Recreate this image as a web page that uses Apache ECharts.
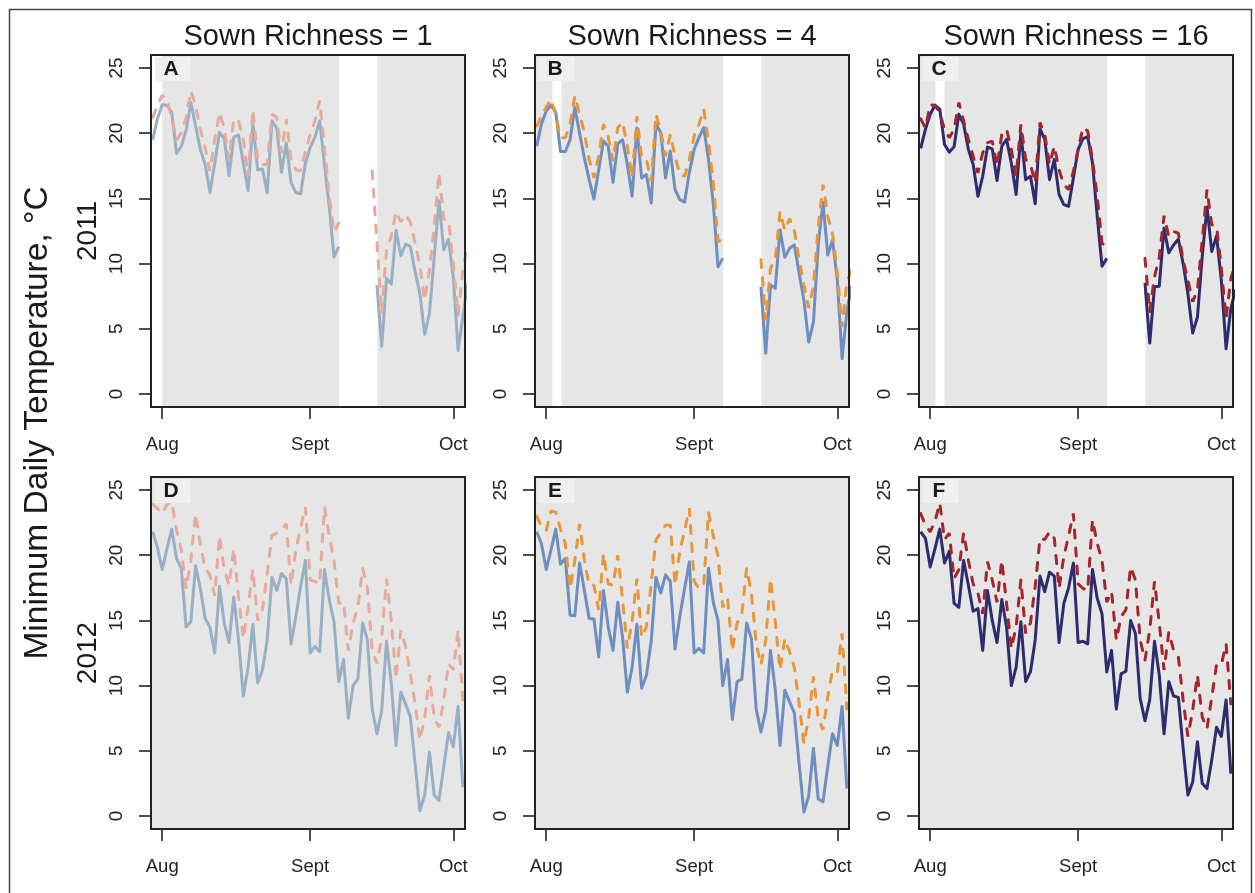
<!DOCTYPE html>
<html>
<head>
<meta charset="utf-8">
<script src="https://cdn.jsdelivr.net/npm/echarts@6/dist/echarts.min.js"></script>
<style>
  html, body { margin: 0; padding: 0; background: #fff; }
  #chart { width: 1255px; height: 893px; }
</style>
</head>
<body>
<div id="chart"></div>
<script>
// day index: 0 = 1 Aug, 31 = 1 Sept, 61 = 1 Oct
var days2011 = [-2, -1, 0, 1, 2, 3, 4, 5, 6, 7, 8, 9, 10, 11, 12, 13, 14, 15, 16, 17, 18, 19, 20, 21, 22, 23, 24, 25, 26, 27, 28, 29, 30, 31, 32, 33, 34, 35, 36, 37, 38, 39, 40, 41, 42, 43, 44, 45, 46, 47, 48, 49, 50, 51, 52, 53, 54, 55, 56, 57, 58, 59, 60, 61, 62, 63, 64];
var days2012 = [-2, -1, 0, 1, 2, 3, 4, 5, 6, 7, 8, 9, 10, 11, 12, 13, 14, 15, 16, 17, 18, 19, 20, 21, 22, 23, 24, 25, 26, 27, 28, 29, 30, 31, 32, 33, 34, 35, 36, 37, 38, 39, 40, 41, 42, 43, 44, 45, 46, 47, 48, 49, 50, 51, 52, 53, 54, 55, 56, 57, 58, 59, 60, 61, 62, 63];

// 2011 (gap in the record 38-44)
var aSolid = [19.5, 21.1, 22.2, 22.15, 21.6, 18.45, 19.0, 20.2, 22.35, 20.55, 18.75, 17.6, 15.45, 17.7, 20.05, 19.6, 16.75, 19.7, 19.85, 17.7, 15.6, 20.8, 17.2, 17.25, 15.45, 20.95, 20.4, 17.0, 19.25, 16.2, 15.45, 15.35, 17.7, 18.9, 19.7, 20.95, 17.6, 14.4, 10.5, 11.3,
  null, null, null, null, null, null, null,
  8.35, 3.65, 8.87, 8.43, 12.54, 10.6, 11.5, 11.3, 9.38, 7.7, 4.57, 6.17, 10.5, 14.83, 11.05, 11.87, 9.0, 3.34, 5.9, 8.5];
var aDashed = [21.2, 22.1, 22.9, 22.6, 21.2, 19.5, 20.0, 21.2, 23.25, 22.1, 20.3, 18.9, 17.1, 19.5, 21.6, 20.4, 18.0, 21.1, 20.95, 19.5, 16.7, 21.8, 18.0, 17.6, 17.6, 21.45, 21.2, 18.5, 21.1, 18.0, 17.2, 17.1, 18.6, 19.9, 20.95, 22.5, 18.9, 15.2, 12.4, 13.1,
  null, null, null, null, null, null, 17.1,
  11.6, 6.17, 11.05, 12.1, 14.0, 13.2, 13.75, 13.2, 11.56, 9.77, 7.2, 9.5, 12.85, 16.96, 13.4, 13.3, 10.0, 6.04, 9.5, 11.5];
var bSolid = [19.0, 20.7, 21.7, 22.15, 21.6, 18.6, 18.6, 19.5, 21.97, 20.0, 18.1, 16.44, 14.95, 17.2, 19.4, 19.0, 16.24, 19.2, 19.5, 17.6, 15.16, 20.4, 16.57, 16.83, 14.65, 20.7, 20.04, 16.57, 18.63, 15.67, 14.9, 14.72, 17.0, 18.76, 19.66, 20.43, 18.0, 14.65, 9.76, 10.4,
  null, null, null, null, null, null, null,
  8.22, 3.13, 8.35, 8.1, 12.6, 10.48, 11.17, 11.43, 9.25, 7.2, 3.98, 5.52, 11.43, 14.7, 10.66, 11.8, 8.74, 2.7, 6.3, 8.3];
var bDashed = [20.55, 21.3, 22.0, 22.6, 21.45, 19.66, 19.66, 20.7, 22.87, 21.45, 20.04, 17.99, 16.57, 18.24, 20.7, 19.73, 17.86, 20.43, 20.86, 19.0, 16.57, 21.3, 18.1, 17.99, 16.3, 21.45, 20.17, 18.24, 19.9, 18.24, 16.83, 16.7, 17.99, 19.78, 20.68, 21.84, 19.4, 16.3, 11.7, 11.8,
  null, null, null, null, null, null, null,
  10.3, 5.65, 9.65, 10.3, 13.98, 12.55, 13.45, 12.55, 10.3, 8.4, 6.6, 8.26, 12.8, 16.05, 13.6, 12.3, 9.25, 5.14, 8.6, 9.5];
var cSolid = [18.83, 20.3, 21.45, 22.15, 21.84, 19.14, 18.55, 18.96, 21.45, 20.7, 18.76, 17.6, 15.16, 16.7, 18.94, 18.8, 16.37, 19.0, 19.53, 17.7, 15.3, 20.04, 16.44, 16.7, 14.6, 20.35, 19.53, 16.44, 17.99, 15.3, 14.52, 14.39, 16.57, 18.76, 19.58, 19.73, 17.73, 13.62, 9.8, 10.4,
  null, null, null, null, null, null, null,
  8.53, 3.9, 8.22, 8.27, 12.72, 10.83, 11.43, 11.87, 10.0, 7.7, 4.68, 5.9, 10.53, 14.34, 10.92, 12.13, 8.74, 3.47, 6.55, 8.0];
var cDashed = [21.1, 20.4, 22.2, 22.1, 21.6, 20.3, 19.66, 20.3, 22.35, 20.94, 19.53, 18.24, 16.96, 18.5, 19.27, 19.4, 17.47, 19.9, 20.3, 18.76, 16.7, 20.68, 17.99, 17.6, 16.19, 20.81, 19.9, 17.6, 19.0, 17.2, 16.06, 15.67, 17.09, 18.76, 20.43, 20.17, 17.99, 15.16, 11.56, 11.3,
  null, null, null, null, null, null, null,
  10.4, 6.3, 8.99, 10.5, 13.67, 12.08, 12.46, 12.33, 10.28, 8.74, 7.07, 7.97, 11.8, 15.68, 12.98, 12.85, 9.64, 5.78, 8.87, 10.0];

// 2012
var dSolid = [21.8, 20.6, 18.9, 20.5, 22.0, 19.75, 19.0, 14.5, 14.9, 19.2, 17.45, 15.15, 14.5, 12.5, 17.6, 14.8, 13.3, 16.8, 13.5, 9.2, 11.4, 14.7, 10.2, 11.2, 13.5, 18.3, 17.3, 18.6, 18.2, 13.2, 15.3, 17.6, 19.6, 12.5, 13.0, 12.6, 18.9, 16.6, 14.9, 10.3, 12.0, 7.5, 10.0, 10.5, 14.8, 13.5, 8.2, 6.3, 8.1, 13.4, 10.2, 5.4, 9.5, 8.6, 7.6, 4.0, 0.4, 1.6, 4.9, 1.6, 1.2, 3.8, 6.4, 5.3, 8.4, 2.2];
var dDashed = [23.9, 23.6, 23.2, 23.9, 24.1, 21.9, 20.4, 17.45, 19.6, 23.2, 20.8, 19.0, 18.5, 16.9, 21.5, 18.9, 17.7, 20.5, 16.8, 13.6, 16.0, 18.9, 15.0, 15.8, 18.6, 21.5, 21.7, 22.0, 22.4, 17.7, 20.4, 22.1, 23.7, 18.1, 18.0, 17.8, 23.7, 21.5, 19.6, 16.3, 16.4, 12.7, 14.8, 16.0, 19.0, 17.45, 12.7, 11.7, 13.7, 18.2, 15.0, 10.5, 14.25, 13.0, 10.9, 8.6, 5.8, 7.5, 10.8, 7.5, 6.8, 8.9, 11.7, 11.2, 14.25, 8.9];
var eSolid = [21.8, 20.9, 18.9, 20.4, 22.0, 19.3, 19.75, 15.4, 15.35, 19.4, 17.3, 15.15, 15.1, 12.2, 17.3, 14.5, 12.7, 16.4, 13.7, 9.5, 11.4, 14.7, 9.8, 10.8, 13.4, 18.3, 17.1, 18.5, 18.0, 12.8, 15.3, 17.45, 19.5, 12.5, 12.85, 12.5, 19.0, 16.4, 15.0, 10.0, 12.0, 7.4, 10.3, 10.5, 14.8, 13.6, 8.2, 6.45, 8.1, 12.7, 9.65, 5.4, 9.65, 8.75, 7.9, 4.0, 0.3, 1.5, 5.2, 1.3, 1.1, 3.8, 6.3, 5.4, 8.4, 2.1];
var eDashed = [23.0, 22.2, 21.9, 23.4, 23.3, 22.0, 20.9, 17.45, 19.6, 22.4, 19.6, 17.7, 17.7, 15.8, 20.1, 17.8, 17.7, 20.0, 16.6, 12.85, 14.9, 18.2, 13.7, 14.5, 17.8, 21.2, 21.7, 22.3, 22.3, 17.7, 20.3, 21.9, 23.6, 18.0, 17.45, 17.7, 23.3, 21.5, 19.9, 16.0, 16.7, 12.7, 14.8, 15.5, 19.0, 17.1, 13.2, 11.6, 13.5, 18.2, 14.9, 11.2, 13.6, 12.6, 11.4, 8.6, 5.55, 7.5, 10.7, 7.5, 6.6, 9.1, 11.2, 11.05, 14.0, 8.2];
var fSolid = [21.8, 21.3, 19.1, 20.5, 22.0, 19.4, 20.3, 16.3, 16.0, 19.6, 17.7, 15.7, 15.9, 12.7, 17.3, 15.0, 13.3, 16.6, 14.5, 10.0, 11.4, 14.9, 10.3, 11.05, 13.5, 18.4, 17.2, 18.7, 18.4, 13.3, 16.3, 17.5, 19.4, 13.3, 13.4, 13.2, 18.9, 16.7, 15.5, 11.05, 12.7, 8.2, 10.9, 11.1, 15.0, 14.0, 9.0, 7.3, 8.9, 13.4, 10.8, 6.3, 10.3, 9.2, 9.1, 5.2, 1.6, 2.6, 5.7, 2.5, 2.1, 4.3, 6.8, 6.1, 8.9, 3.25];
var fDashed = [23.2, 22.3, 21.8, 22.6, 24.0, 21.2, 21.7, 18.2, 18.9, 21.7, 19.6, 17.8, 17.1, 15.5, 19.5, 18.1, 16.4, 19.6, 16.3, 12.85, 14.5, 18.1, 14.0, 14.8, 17.6, 21.3, 21.2, 21.8, 21.3, 17.45, 19.9, 21.5, 23.2, 17.8, 17.45, 17.3, 22.7, 20.9, 19.6, 16.4, 17.2, 13.5, 15.3, 15.8, 19.1, 18.1, 13.5, 11.95, 14.25, 18.0, 14.8, 11.2, 14.1, 12.7, 12.2, 8.9, 6.1, 8.1, 10.8, 7.6, 6.7, 9.1, 11.6, 11.6, 13.2, 8.6];

// grey shaded periods (day index ranges)
var shadeA = [[0, 37.1], [45.1, 63.45]];
var shadeB = [[-2.35, 1.3], [3.2, 37.1], [45.1, 63.45]];
var shadeC = [[-2.35, 1.1], [3.0, 37.1], [45.1, 63.45]];
var shade2012 = [[-2.35, 63.45]];

var richnessLevels = ['1', '4', '16'];
var years = ['2011', '2012'];
var panelLetters = ['A', 'B', 'C', 'D', 'E', 'F'];
var monthTicks = [0, 31, 61];
var monthLabels = ['Aug', 'Sept', 'Oct'];
var tempTicks = [0, 5, 10, 15, 20, 25];

var FONT = '"Liberation Sans", Arial, Helvetica, sans-serif';
var solidColors = ['#99afc4', '#6f8ec0', '#2e2c6c'];
var dashedColors = ['#e6ab9c', '#e8963a', '#a3262d'];

var panels = [
  {days: days2011, solid: aSolid, dashed: aDashed, shade: shadeA},
  {days: days2011, solid: bSolid, dashed: bDashed, shade: shadeB},
  {days: days2011, solid: cSolid, dashed: cDashed, shade: shadeC},
  {days: days2012, solid: dSolid, dashed: dDashed, shade: shade2012},
  {days: days2012, solid: eSolid, dashed: eDashed, shade: shade2012},
  {days: days2012, solid: fSolid, dashed: fDashed, shade: shade2012}
];

var colLeft = [151, 535, 919];
var rowTop = [55, 477];
var panelW = 314, panelH = 352;

function pairs(xs, ys) {
  return xs.map(function (x, i) { return [x, ys[i]]; });
}

var grids = [], xAxes = [], yAxes = [], series = [], graphics = [];

panels.forEach(function (p, i) {
  var col = i % 3, row = Math.floor(i / 3);
  var left = colLeft[col], top = rowTop[row];
  grids.push({
    left: left, top: top, width: panelW, height: panelH,
    show: true, z: 5, backgroundColor: 'transparent',
    borderColor: '#222', borderWidth: 2
  });
  xAxes.push({
    gridIndex: i, type: 'value', min: -2.35, max: 63.45,
    axisLine: {show: false, onZero: false},
    splitLine: {show: false},
    axisTick: {show: true, customValues: monthTicks, length: 12, lineStyle: {color: '#222', width: 1.6}},
    axisLabel: {
      customValues: monthTicks, margin: 28, fontSize: 18.5, color: '#222', fontFamily: FONT,
      formatter: function (v) { var k = monthTicks.indexOf(v); return k >= 0 ? monthLabels[k] : ''; }
    }
  });
  yAxes.push({
    gridIndex: i, type: 'value', min: -1, max: 26,
    axisLine: {show: false, onZero: false},
    splitLine: {show: false},
    axisTick: {show: true, customValues: tempTicks, length: 12, lineStyle: {color: '#222', width: 1.6}},
    axisLabel: {customValues: tempTicks, rotate: 90, margin: 25, fontSize: 19, color: '#222', fontFamily: FONT}
  });
  series.push({
    type: 'line', xAxisIndex: i, yAxisIndex: i,
    data: pairs(p.days, p.solid),
    symbol: 'none', z: 3, animation: false,
    lineStyle: {color: solidColors[col], width: 3, join: 'round'},
    markArea: {
      silent: true,
      itemStyle: {color: '#e6e6e6'},
      data: p.shade.map(function (s) { return [{xAxis: s[0]}, {xAxis: s[1]}]; })
    }
  });
  series.push({
    type: 'line', xAxisIndex: i, yAxisIndex: i,
    data: pairs(p.days, p.dashed),
    symbol: 'none', z: 4, animation: false,
    lineStyle: {color: dashedColors[col], width: 3, type: [8, 10], cap: 'round'}
  });

  // panel letter in its small box
  graphics.push({
    type: 'rect', silent: true, z: 20,
    shape: {x: left + 4, y: top + 2, width: 35, height: 24},
    style: {fill: '#efefef'}
  });
  graphics.push({
    type: 'text', silent: true, z: 21,
    x: left + 20, y: top + 14,
    style: {text: panelLetters[i], font: 'bold 21px ' + FONT, fill: '#1a1a1a', align: 'center', verticalAlign: 'middle'}
  });
});

// column titles
richnessLevels.forEach(function (r, c) {
  graphics.push({
    type: 'text', silent: true, z: 21,
    x: colLeft[c] + panelW / 2, y: 37,
    style: {text: 'Sown Richness = ' + r, font: '29px ' + FONT, fill: '#1a1a1a', align: 'center', verticalAlign: 'middle'}
  });
});

// year labels
years.forEach(function (yr, r) {
  graphics.push({
    type: 'text', silent: true, z: 21,
    x: 88, y: rowTop[r] + panelH / 2, rotation: Math.PI / 2,
    style: {text: yr, font: '28px ' + FONT, fill: '#1a1a1a', align: 'center', verticalAlign: 'middle'}
  });
});

// shared y-axis title
graphics.push({
  type: 'text', silent: true, z: 21,
  x: 38, y: 423, rotation: Math.PI / 2,
  style: {text: 'Minimum Daily Temperature, \u00b0C', font: '33.5px ' + FONT, fill: '#1a1a1a', align: 'center', verticalAlign: 'middle'}
});

// outer frame
graphics.push({
  type: 'rect', silent: true, z: 0,
  shape: {x: 9.5, y: 9.5, width: 1242, height: 900},
  style: {fill: 'none', stroke: '#444', lineWidth: 1.5}
});

var chart = echarts.init(document.getElementById('chart'));
chart.setOption({
  animation: false,
  backgroundColor: '#fff',
  grid: grids,
  xAxis: xAxes,
  yAxis: yAxes,
  series: series,
  graphic: graphics
});
</script>
</body>
</html>
